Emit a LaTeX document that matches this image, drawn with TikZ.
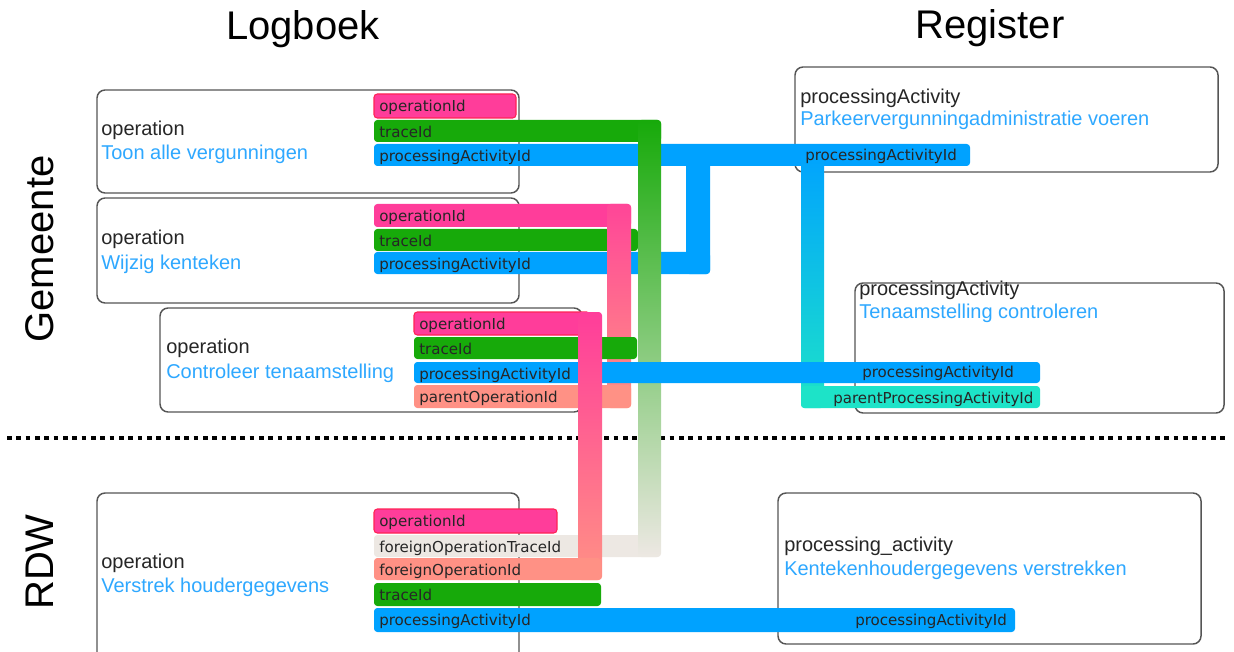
\documentclass[tikz,border=0pt]{standalone}
\usepackage{fontspec}
\setmainfont{Liberation Sans}
\newfontfamily\fieldfont{DejaVu Sans}
\definecolor{opPink}{HTML}{FF3D9A}
\definecolor{opRed}{HTML}{FF2255}
\definecolor{trGreen}{HTML}{17AA0A}
\definecolor{paBlue}{HTML}{00A2FF}
\definecolor{parSalmon}{HTML}{FF9185}
\definecolor{ppaTeal}{HTML}{1DE3C8}
\definecolor{ftGray}{HTML}{EDE8E3}
\definecolor{txtBlue}{HTML}{2EA8FF}
\definecolor{boxGray}{HTML}{555555}
\begin{document}
\begin{tikzpicture}[x=0.75pt,y=-0.75pt,
  opbox/.style={draw=boxGray,line width=1.1pt,rounded corners=6pt,fill=white},
  fbar/.style={fill=#1,rounded corners=2.5pt},
  opbar/.style={fill=opPink,draw=opRed,line width=0.8pt,rounded corners=2.5pt},
  fld/.style={font=\fieldfont\fontsize{11.3}{13}\selectfont,text=black!85,inner sep=0pt,anchor=base west},
  kindlbl/.style={font=\fontsize{15}{18}\selectfont,text=black!85,inner sep=0pt,anchor=base west},
  actlbl/.style={kindlbl,text=txtBlue},
  heading/.style={font=\fontsize{30}{36}\selectfont,inner sep=0pt},
  sepline/.style={line width=3.5pt,dash pattern=on 3.5pt off 3.5pt}]
\useasboundingbox (0,0) rectangle (1234,652);
\clip (0,0) rectangle (1234,652);

% headings and separator
\node[heading,anchor=base] (logb) at (303,40) {Logboek};
\node[heading,anchor=base] (reg) at (990,39) {Register};
\node[heading,rotate=90] (gem) at (40,249) {Gemeente};
\node[heading,rotate=90] (rdw) at (40,562) {RDW};
\draw[sepline] (7,438) -- (1225,438);

% boxes
\draw[opbox] (97,90) rectangle (519,193);
\draw[opbox] (97,198) rectangle (519,303);
\draw[opbox] (160,308) rectangle (582,412);
\draw[opbox] (97,493) rectangle (519,680);
\draw[opbox] (795,67) rectangle (1218,172);
\draw[opbox] (855,283) rectangle (1224,413);
\draw[opbox] (778,493) rectangle (1201,644);

% box texts
\node[kindlbl] (k1) at (101,136) {operation};
\node[actlbl] (a1) at (101,160) {Toon\ alle\ vergunningen};
\node[kindlbl] (k2) at (101,245) {operation};
\node[actlbl] (a2) at (101,269) {Wijzig\ kenteken};
\node[kindlbl] (k3) at (166,353) {operation};
\node[actlbl] (a3) at (166,378) {Controleer\ tenaamstelling};
\node[kindlbl] (k4) at (101,568) {operation};
\node[actlbl] (a4) at (101,592) {Verstrek\ houdergegevens};
\node[kindlbl] (rk1) at (800,104) {processingActivity};
\node[actlbl] (ra1) at (800,126) {Parkeervergunningadministratie\ voeren};
\node[kindlbl] (rk2) at (859,295) {processingActivity};
\node[actlbl] (ra2) at (859,318) {Tenaamstelling\ controleren};
\node[kindlbl] (rk3) at (784,551) {processing\_activity};
\node[actlbl] (ra3) at (784,575) {Kentekenhoudergegevens\ verstrekken};

% bars, back to front
\fill[fbar=ftGray] (374,535) rectangle (660,557);
\filldraw[opbar] (374,94) rectangle (516,118);
\fill[fbar=trGreen] (374,120) rectangle (661,142);
\fill[fbar=paBlue] (374,144) rectangle (970,166);
\fill[fbar=opPink] (374,204) rectangle (631,227);
\fill[fbar=trGreen] (374,229) rectangle (638,251);
\fill[fbar=paBlue] (374,252) rectangle (710,274);
\fill[fbar=paBlue] (686,150) rectangle (710,274);
\shade[rounded corners=2.5pt,top color=opPink!90!parSalmon,bottom color=parSalmon] (607,204) rectangle (631,408);
\shade[rounded corners=2.5pt,top color=trGreen,bottom color=ftGray] (638,120) rectangle (661,557);
\shade[rounded corners=2.5pt,top color=paBlue,bottom color=ppaTeal] (801,150) rectangle (824,408);
\fill[fbar=trGreen] (414,337) rectangle (637,359);
\fill[fbar=paBlue] (414,362) rectangle (1040,383);
\fill[fbar=parSalmon] (414,385) rectangle (631,408);
\fill[fbar=ppaTeal] (801,386) rectangle (1040,408);
\filldraw[opbar] (414,312) rectangle (590,335);
\shade[rounded corners=2.5pt,top color=opPink,bottom color=parSalmon] (578,312) rectangle (602,580);
\filldraw[opbar] (374,509) rectangle (557,533);
\fill[fbar=parSalmon] (374,558) rectangle (601,580);
\fill[fbar=trGreen] (374,583) rectangle (601,606);
\fill[fbar=paBlue] (374,608) rectangle (1015,632);

% field labels
\node[fld] (f1op) at (379,111.5) {operationId};
\node[fld] (f1tr) at (379,137.5) {traceId};
\node[fld] (f1pa) at (379,161.5) {processingActivityId};
\node[fld] (f2op) at (379,221.5) {operationId};
\node[fld] (f2tr) at (379,246.5) {traceId};
\node[fld] (f2pa) at (379,269.5) {processingActivityId};
\node[fld] (f3op) at (419,329.5) {operationId};
\node[fld] (f3tr) at (419,354.5) {traceId};
\node[fld] (f3pa) at (419,379.5) {processingActivityId};
\node[fld] (f3par) at (419,402.5) {parentOperationId};
\node[fld] (f4op) at (379,526.5) {operationId};
\node[fld] (f4ft) at (379,552.5) {foreignOperationTraceId};
\node[fld] (f4fo) at (379,575.5) {foreignOperationId};
\node[fld] (f4tr) at (379,600.5) {traceId};
\node[fld] (f4pa) at (379,625.5) {processingActivityId};
\node[fld] (r1pa) at (805,160.5) {processingActivityId};
\node[fld] (r2pa) at (862,377.5) {processingActivityId};
\node[fld] (r2ppa) at (833,403.5) {parentProcessingActivityId};
\node[fld] (r3pa) at (855,625.5) {processingActivityId};
\end{tikzpicture}
\end{document}
